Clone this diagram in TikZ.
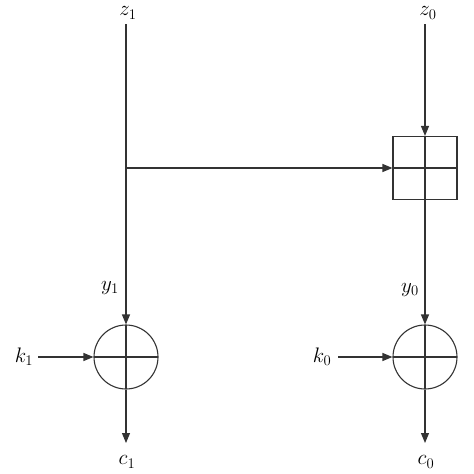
\RequirePackage{fix-cm}
\documentclass[tikz,border=0pt]{standalone}
\usetikzlibrary{arrows.meta}
\begin{document}
\begin{tikzpicture}[x=1pt,y=-1pt,
  line width=1.1pt, draw=black!80,
  arr/.style={-{Triangle[length=10pt,width=8pt]}},
  lbl/.style={inner sep=0pt,font=\fontsize{21}{23}\selectfont},
  xorc/.style={circle,draw,line width=1.1pt,minimum size=64pt,inner sep=0pt,
    path picture={\draw[line width=1.1pt,black!80] (path picture bounding box.north) -- (path picture bounding box.south)
      (path picture bounding box.west) -- (path picture bounding box.east);}},
  boxc/.style={rectangle,draw,line width=1.1pt,minimum width=64pt,minimum height=63pt,inner sep=0pt,
    path picture={\draw[line width=1.1pt,black!80] (path picture bounding box.north) -- (path picture bounding box.south)
      (path picture bounding box.west) -- (path picture bounding box.east);}}]
\useasboundingbox (0,0) rectangle (474,474);
\node[lbl] (z1) at (128,13) {$z_1$};
\node[lbl] (z0) at (428,13) {$z_0$};
\coordinate (t1) at (126,24);
\coordinate (t0) at (425,24);
\node[boxc] (box) at (425,168) {};
\coordinate (br) at (126,168);
\node[xorc] (x1) at (126,357) {};
\node[xorc] (x0) at (425,357) {};
\coordinate (k1s) at (38,357);
\coordinate (k0s) at (338,357);
\coordinate (e1) at (126,443);
\coordinate (e0) at (425,443);
\node[lbl] (k1) at (24,357) {$k_1$};
\node[lbl] (k0) at (322,357) {$k_0$};
\node[lbl] (y1) at (110,288) {$y_1$};
\node[lbl] (y0) at (410,290) {$y_0$};
\node[lbl] (c1) at (127,462) {$c_1$};
\node[lbl] (c0) at (426,462) {$c_0$};
\draw[arr] (t1) -- (x1.north);
\draw[arr] (br) -- (box.west);
\draw[arr] (t0) -- (box.north);
\draw[arr] (box.south) -- (x0.north);
\draw[arr] (k1s) -- (x1.west);
\draw[arr] (k0s) -- (x0.west);
\draw[arr] (x1.south) -- (e1);
\draw[arr] (x0.south) -- (e0);
\end{tikzpicture}
\end{document}
